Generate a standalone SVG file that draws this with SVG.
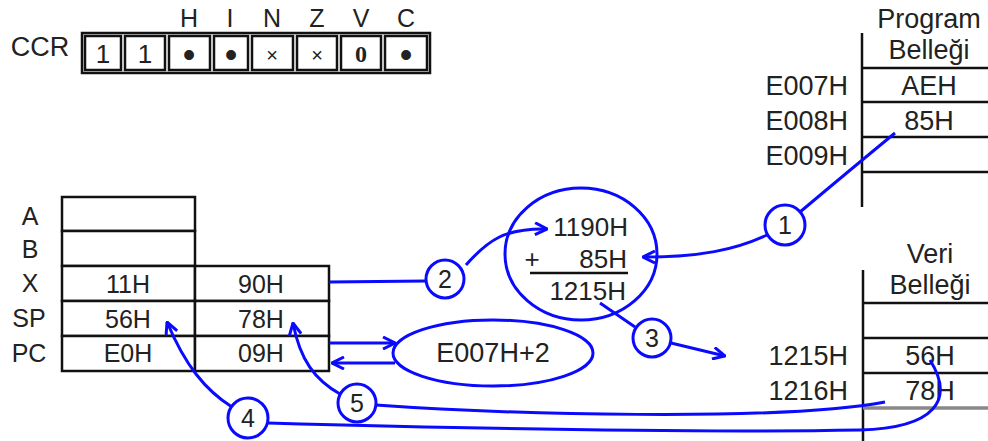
<svg xmlns="http://www.w3.org/2000/svg" width="988" height="441" viewBox="0 0 988 441">
<style>
  text { font-family: "Liberation Sans", Arial, sans-serif; fill: #222; }
  .r { font-size: 25px; text-anchor: middle; }
  .mc { font-size: 27px; text-anchor: middle; }
  .me { font-size: 27px; text-anchor: end; }
  .cell { fill: #fff; stroke: #111; stroke-width: 2.5; }
  .line { stroke: #111; stroke-width: 2.5; fill: none; }
  .blue { stroke: #0a0aff; stroke-width: 3; fill: none; }
  .bc { stroke: #0a0aff; stroke-width: 3; fill: #fff; }
  .num { font-size: 25px; text-anchor: middle; }
  .dot { font-size: 36px; text-anchor: middle; }
</style>
<defs>
  <marker id="arr" markerUnits="userSpaceOnUse" viewBox="0 0 14 14" refX="13" refY="7" markerWidth="14" markerHeight="14" orient="auto">
    <path d="M1,1 L13,7 L1,13" fill="none" stroke="#0a0aff" stroke-width="3"/>
  </marker>
</defs>
<rect width="988" height="441" fill="#fff"/>

<g id="ccr">
  <text x="40" y="56" class="mc">CCR</text>
  <rect x="82" y="33" width="348" height="40" fill="#fff" stroke="#111" stroke-width="2.5"/>
  <rect x="85" y="36" width="36" height="34" class="cell" stroke-width="1.8"/>
  <rect x="125" y="36" width="40" height="34" class="cell" stroke-width="1.8"/>
  <rect x="169" y="36" width="41" height="34" class="cell" stroke-width="1.8"/>
  <rect x="214" y="36" width="34" height="34" class="cell" stroke-width="1.8"/>
  <rect x="252" y="36" width="41" height="34" class="cell" stroke-width="1.8"/>
  <rect x="297" y="36" width="40" height="34" class="cell" stroke-width="1.8"/>
  <rect x="341" y="36" width="40" height="34" class="cell" stroke-width="1.8"/>
  <rect x="385" y="36" width="42" height="34" class="cell" stroke-width="1.8"/>
  <text x="189" y="27" class="r">H</text>
  <text x="230" y="27" class="r">I</text>
  <text x="272" y="27" class="r">N</text>
  <text x="317" y="27" class="r">Z</text>
  <text x="361" y="27" class="r">V</text>
  <text x="406" y="27" class="r">C</text>
  <text x="103" y="63" class="r" style="font-size:26px">1</text>
  <text x="145" y="63" class="r" style="font-size:26px">1</text>
  <text x="189" y="67" class="dot">•</text>
  <text x="231" y="67" class="dot">•</text>
  <text x="272" y="62" class="r" style="font-size:20px">×</text>
  <text x="317" y="62" class="r" style="font-size:20px">×</text>
  <text x="361" y="62" class="r" style="font-family:'Liberation Serif',serif;font-weight:bold;font-size:24px">0</text>
  <text x="406" y="67" class="dot">•</text>
</g>

<g id="registers">
  <rect x="62" y="197" width="133" height="34" class="cell"/>
  <rect x="62" y="231" width="133" height="35" class="cell"/>
  <rect x="62" y="266" width="133" height="35" class="cell"/>
  <rect x="195" y="266" width="134" height="35" class="cell"/>
  <rect x="62" y="301" width="133" height="35" class="cell"/>
  <rect x="195" y="301" width="134" height="35" class="cell"/>
  <rect x="62" y="336" width="133" height="35" class="cell"/>
  <rect x="195" y="336" width="134" height="35" class="cell"/>
  <text x="30" y="225" class="r">A</text>
  <text x="30" y="258" class="r">B</text>
  <text x="30" y="292" class="r">X</text>
  <text x="29" y="327" class="r">SP</text>
  <text x="29" y="362" class="r">PC</text>
  <text x="128" y="293" class="r">11H</text>
  <text x="261" y="293" class="r">90H</text>
  <text x="128" y="328" class="r">56H</text>
  <text x="261" y="328" class="r">78H</text>
  <text x="128" y="362" class="r">E0H</text>
  <text x="261" y="362" class="r">09H</text>
</g>

<g id="program-memory">
  <text x="929" y="28" class="mc">Program</text>
  <text x="929" y="59" class="mc">Belleği</text>
  <line x1="862" y1="33" x2="862" y2="207" class="line"/>
  <line x1="862" y1="68" x2="988" y2="68" class="line"/>
  <line x1="862" y1="102" x2="988" y2="102" class="line"/>
  <line x1="862" y1="137" x2="988" y2="137" class="line"/>
  <line x1="862" y1="172" x2="988" y2="172" class="line"/>
  <text x="848" y="95" class="me">E007H</text>
  <text x="848" y="130" class="me">E008H</text>
  <text x="848" y="165" class="me">E009H</text>
  <text x="929" y="95" class="mc">AEH</text>
  <text x="929" y="130" class="mc">85H</text>
</g>

<g id="data-memory">
  <text x="930" y="263" class="mc">Veri</text>
  <text x="930" y="294" class="mc">Belleği</text>
  <line x1="863" y1="270" x2="863" y2="441" class="line"/>
  <line x1="863" y1="303" x2="988" y2="303" class="line"/>
  <line x1="863" y1="338" x2="988" y2="338" class="line"/>
  <line x1="863" y1="373" x2="988" y2="373" class="line"/>
  <line x1="863" y1="408" x2="988" y2="408" stroke="#888" stroke-width="3.5"/>
  <text x="848" y="365" class="me">1215H</text>
  <text x="848" y="400" class="me">1216H</text>
  <text x="930" y="365" class="mc">56H</text>
  <text x="930" y="400" class="mc">78H</text>
</g>

<g id="adder">
  <ellipse cx="581" cy="254" rx="76" ry="66" class="blue"/>
  <text x="628" y="236" class="me" style="font-size:26px">1190H</text>
  <text x="532" y="268" class="mc" style="font-size:26px">+</text>
  <text x="627" y="268" class="me" style="font-size:26px">85H</text>
  <line x1="530" y1="273" x2="628" y2="273" stroke="#111" stroke-width="2.5"/>
  <text x="626" y="300" class="me" style="font-size:26px">1215H</text>
</g>

<g id="pc-increment">
  <ellipse cx="493" cy="353" rx="100" ry="33" class="blue"/>
  <text x="493" y="362" class="mc" style="font-size:27px">E007H+2</text>
</g>

<g id="connectors">
  <path d="M895,133 Q850,170 800,212" class="blue"/>
  <path d="M767,235 C735,250 700,257 643,257" class="blue" marker-end="url(#arr)"/>
  <path d="M329,282 L426,281" class="blue"/>
  <path d="M466,265 C488,240 505,228 547,229" class="blue" marker-end="url(#arr)"/>
  <path d="M600,303 L635,327" class="blue"/>
  <path d="M671,343 L725,356" class="blue" marker-end="url(#arr)"/>
  <path d="M329,343 L395,343" class="blue" marker-end="url(#arr)"/>
  <path d="M395,363 L332,363" class="blue" marker-end="url(#arr)"/>
  <path d="M232,407 C205,390 185,365 167,322" class="blue" marker-end="url(#arr)"/>
  <path d="M268,423 C450,428 700,433 860,430 C935,428 955,400 930,360" class="blue"/>
  <path d="M340,394 C315,380 300,360 293,323" class="blue" marker-end="url(#arr)"/>
  <path d="M376,405 C500,414 780,422 885,402" class="blue"/>
</g>

<g id="step1"><circle cx="785" cy="225" r="20" class="bc"/><text x="785" y="234" class="num">1</text></g>
<g id="step2"><circle cx="445" cy="279" r="19" class="bc"/><text x="445" y="288" class="num">2</text></g>
<g id="step3"><circle cx="652" cy="338" r="19" class="bc"/><text x="652" y="347" class="num">3</text></g>
<g id="step4"><circle cx="248" cy="418" r="20" class="bc"/><text x="248" y="427" class="num">4</text></g>
<g id="step5"><circle cx="357" cy="403" r="19" class="bc"/><text x="357" y="412" class="num">5</text></g>
</svg>
